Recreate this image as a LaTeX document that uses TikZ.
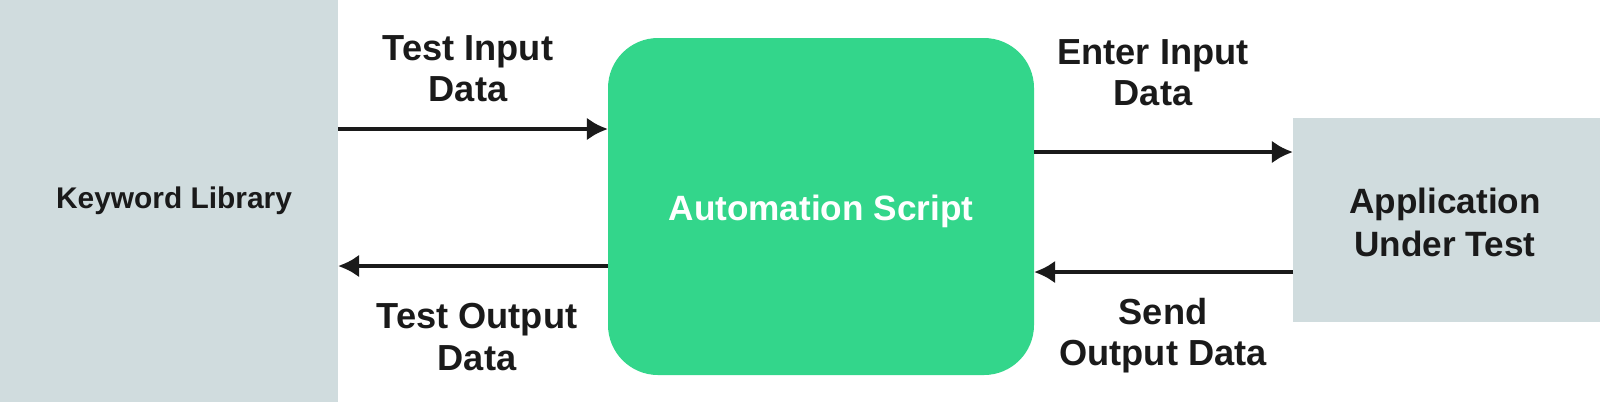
\documentclass[tikz,border=0pt]{standalone}
\usepackage{fontspec}
\setmainfont{Liberation Sans}
\usetikzlibrary{arrows.meta}
\definecolor{gbox}{HTML}{D0DCDE}
\definecolor{gr}{HTML}{33D68B}
\definecolor{ink}{HTML}{1A1A1A}
\begin{document}
\begin{tikzpicture}[x=0.01cm,y=-0.01cm,
  lbl/.style={font=\bfseries\fontsize{10.3}{11.7}\selectfont,text=ink,align=center},
  arr/.style={draw=ink,line width=1.4pt,-{Latex[length=6pt,width=6.5pt]}}]
\useasboundingbox (0,0) rectangle (1600,402);
\fill[gbox] (0,0) rectangle (338,402);
\node[lbl,font=\bfseries\fontsize{8.5}{10}\selectfont] (kl) at (174,201) {Keyword Library};
\fill[gr,rounded corners=0.5cm] (608,38) rectangle (1034,375);
\node[lbl,text=white,font=\bfseries\fontsize{10}{12}\selectfont] (as) at (821,211) {Automation Script};
\fill[gbox] (1293,118) rectangle (1600,322);
\node[lbl,font=\bfseries\fontsize{10}{12.2}\selectfont] (aut) at (1445,222) {Application\\Under Test};
\coordinate (a1) at (338,129); \coordinate (a2) at (608,129);
\coordinate (b1) at (608,266); \coordinate (b2) at (338,266);
\coordinate (c1) at (1034,152); \coordinate (c2) at (1293,152);
\coordinate (d1) at (1293,272); \coordinate (d2) at (1034,272);
\draw[arr] (a1) -- (a2);
\draw[arr] (b1) -- (b2);
\draw[arr] (c1) -- (c2);
\draw[arr] (d1) -- (d2);
\node[lbl] (t1) at (468,69) {Test Input\\Data};
\node[lbl] (t2) at (477,337) {Test Output\\Data};
\node[lbl] (t3) at (1153,73) {Enter Input\\Data};
\node[lbl] (t4) at (1163,336) {Send\\Output Data};
\end{tikzpicture}
\end{document}
